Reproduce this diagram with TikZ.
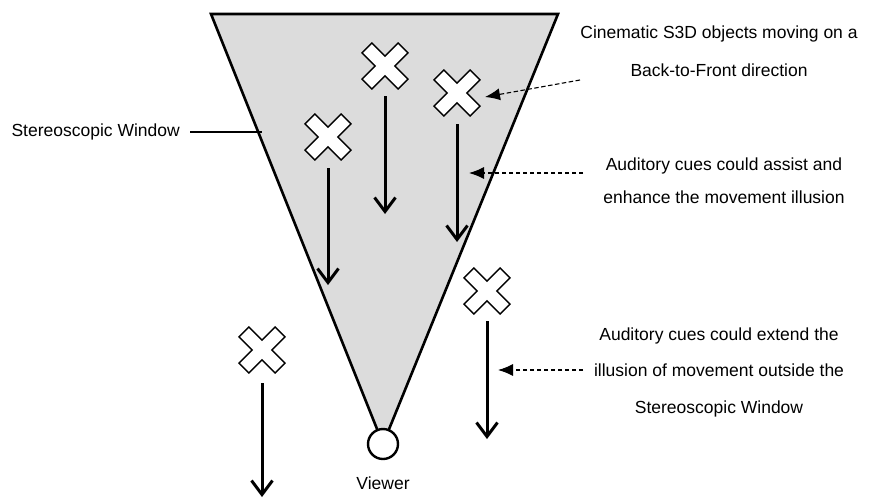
\documentclass[tikz,border=0pt]{standalone}
\usepackage{fontspec}
\setmainfont{Liberation Sans}
\usetikzlibrary{arrows.meta}
\definecolor{conegray}{RGB}{220,220,220}
\begin{document}
\begin{tikzpicture}[x=1pt,y=-1pt,
  lbl/.style={font=\fontsize{17.5}{20}\selectfont, align=center, inner sep=0pt},
  motion/.style={line width=3pt, -{Straight Barb[length=14pt,width=21pt,line width=3pt]}},
  cue/.style={line width=1.1pt, dash pattern=on 4.5pt off 2.5pt, -{Latex[length=15pt,width=12pt]}},
  xmark/.pic={\draw[line width=1.4pt, fill=white, line join=miter, rotate=45]
     (7,7)--(7,25.5)--(-7,25.5)--(-7,7)--(-25.5,7)--(-25.5,-7)--(-7,-7)
     --(-7,-25.5)--(7,-25.5)--(7,-7)--(25.5,-7)--(25.5,7)--cycle;}
]
\useasboundingbox (0,0) rectangle (872,499);
% cone
\coordinate (tl) at (211,14);
\coordinate (tr) at (558,14);
\coordinate (apex) at (383,444);
\draw[line width=2.6pt, fill=conegray, line join=miter] (tl) -- (tr) -- (apex) -- cycle;
\node[circle, draw, line width=2.4pt, fill=white, minimum size=30pt, inner sep=0pt] (viewer) at (383,444) {};
\node[lbl] (viewerlbl) at (383,483) {Viewer};

% stereoscopic window label
\node[lbl, anchor=east] (swlbl) at (180,132) {Stereoscopic Window};
\coordinate (swedge) at (262,132);
\draw[line width=1.4pt] ([xshift=10pt]swlbl.east) -- (swedge);

% crosses
\coordinate (c1) at (385,66);
\coordinate (c2) at (457,93);
\coordinate (c3) at (328,137);
\coordinate (c4) at (262,350);
\coordinate (c5) at (487,291);
\foreach \c in {c1,c2,c3,c4,c5} \pic at (\c) {xmark};

% motion arrows
\coordinate (a1s) at (385,96);  \coordinate (a1e) at (385,214);
\coordinate (a2s) at (457,124); \coordinate (a2e) at (457,242);
\coordinate (a3s) at (328,168); \coordinate (a3e) at (328,285);
\coordinate (a4s) at (262,383); \coordinate (a4e) at (262,497);
\coordinate (a5s) at (487,321); \coordinate (a5e) at (487,439);
\foreach \s/\e in {a1s/a1e,a2s/a2e,a3s/a3e,a4s/a4e,a5s/a5e} \draw[motion] (\s) -- (\e);

% explanatory labels
\node[lbl, font=\fontsize{17.5}{38}\selectfont] (t1) at (719,51) {Cinematic S3D objects moving on a\\Back-to-Front direction};
\node[lbl, font=\fontsize{17.5}{33}\selectfont] (t2) at (724,181) {Auditory cues could assist and\\enhance the movement illusion};
\node[lbl, font=\fontsize{17.5}{36.5}\selectfont] (t3) at (719,372) {Auditory cues could extend the\\illusion of movement outside the\\Stereoscopic Window};

% cue arrows
\coordinate (d1s) at (580,80);  \coordinate (d1e) at (485,97);
\coordinate (d2s) at (583,173); \coordinate (d2e) at (469,173);
\coordinate (d3s) at (583,370); \coordinate (d3e) at (498,370);
\draw[cue] (d1s) -- (d1e);
\draw[cue] (d2s) -- (d2e);
\draw[cue] (d3s) -- (d3e);
\end{tikzpicture}
\end{document}
